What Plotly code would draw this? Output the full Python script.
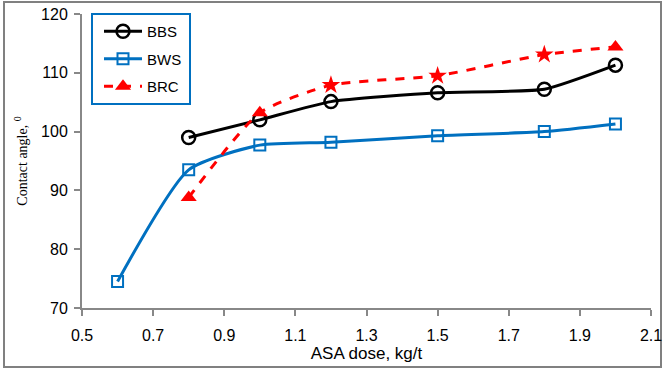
import plotly.graph_objects as go

dose_bbs = [0.8, 1.0, 1.2, 1.5, 1.8, 2.0]
bbs = [99.0, 102.0, 105.1, 106.6, 107.2, 111.3]
dose_bws = [0.6, 0.8, 1.0, 1.2, 1.5, 1.8, 2.0]
bws = [74.5, 93.5, 97.7, 98.2, 99.3, 100.0, 101.3]
dose_brc = [0.8, 1.0, 1.2, 1.5, 1.8, 2.0]
brc = [88.8, 103.2, 107.9, 109.5, 113.1, 114.4]

x_ticks = [0.5, 0.7, 0.9, 1.1, 1.3, 1.5, 1.7, 1.9, 2.1]
y_ticks = [70, 80, 90, 100, 110, 120]

fig = go.Figure()
fig.add_trace(go.Scatter(
    x=dose_bbs, y=bbs, name="BBS", legendgroup="a", mode="lines+markers",
    line=dict(color="black", width=3, shape="spline", smoothing=0.5),
    marker=dict(symbol="circle-open", size=13, color="black", line=dict(width=2.5)),
))
fig.add_trace(go.Scatter(
    x=dose_bws, y=bws, name="BWS", legendgroup="b", mode="lines+markers",
    line=dict(color="#0070C0", width=3, shape="spline", smoothing=0.6),
    marker=dict(symbol="square-open", size=11, color="#0070C0", line=dict(width=2)),
))
fig.add_trace(go.Scatter(
    x=dose_brc, y=brc, name="BRC", legendgroup="c", mode="lines+markers",
    line=dict(color="#FF0000", width=3, dash="dash", shape="spline", smoothing=0.6),
    marker=dict(symbol=["triangle-up", "triangle-up", "star", "star", "star", "triangle-up"],
                size=14, color="#FF0000"),
))

# plot area: x 82..651, y 14..308
pw = 663 - 82 - 12
ph = 372 - 14 - 64

def px(x):
    return (x - 82) / pw

def py(y):
    return (308 - y) / ph

fig.update_layout(
    width=663, height=372,
    margin=dict(l=82, r=12, t=14, b=64),
    paper_bgcolor="white", plot_bgcolor="rgba(0,0,0,0)",
    font=dict(family="Liberation Sans, Arial", size=17, color="black"),
    showlegend=True,
    legend=dict(
        x=px(99), y=py(15), xanchor="left", yanchor="top",
        borderwidth=0, bgcolor="rgba(0,0,0,0)", itemwidth=38,
        font=dict(size=15), tracegroupgap=5,
    ),
    shapes=[
        dict(type="rect", xref="paper", yref="paper",
             x0=px(4), x1=px(661), y0=py(367), y1=py(2),
             line=dict(color="#808080", width=2), layer="below"),
        dict(type="rect", xref="paper", yref="paper",
             x0=px(92), x1=px(190), y0=py(104), y1=py(14),
             line=dict(color="#0070C0", width=2), layer="above"),
    ],
)
fig.update_xaxes(
    range=[0.5, 2.1], tickvals=x_ticks, ticktext=[f"{v:.1f}" for v in x_ticks],
    tickfont=dict(size=16),
    showgrid=False, zeroline=False, showline=True, linecolor="#888888", linewidth=2,
    ticks="outside", tickcolor="#888888", ticklen=6, tickwidth=2, automargin=False,
    ticklabelstandoff=6,
    title=dict(text="ASA dose, kg/t", font=dict(size=17), standoff=3),
)
fig.update_yaxes(
    range=[70, 120], tickvals=y_ticks, tickfont=dict(size=16),
    showgrid=False, zeroline=False, showline=True, linecolor="#888888", linewidth=2,
    ticks="outside", tickcolor="#888888", ticklen=6, tickwidth=2, automargin=False,
    ticklabelstandoff=3,
    title=dict(text="Contact angle, <sup>0</sup>",
               font=dict(family="Liberation Serif, Times New Roman", size=14), standoff=10),
)

fig.write_html("out.html")
